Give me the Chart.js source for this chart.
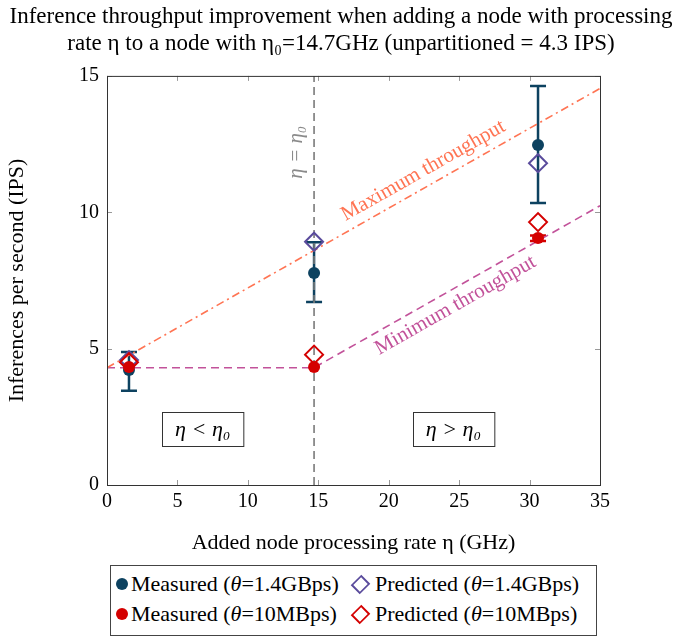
<!DOCTYPE html>
<html>
<head>
<meta charset="utf-8">
<script src="https://cdn.jsdelivr.net/npm/chart.js@4"></script>
<style>
  body { margin: 0; background: #fff; font-family: 'Liberation Serif', serif; }
  #wrap { position: absolute; left: 0; top: 0; width: 682px; height: 560px; }
  #legend {
    position: absolute; left: 110px; top: 565px; width: 487px; height: 71px;
    border: 1px solid #444; font-size: 22px; color: #000; box-sizing: border-box;
    padding: 3px 0 0 5px; white-space: nowrap;
  }
  .row { display: flex; align-items: center; height: 30px; }
  .item { display: flex; align-items: center; }
  .item.first { width: 232px; }
  .dot { width: 12px; height: 12px; border-radius: 50%; margin-right: 3px; display: inline-block; }
  .dia { width: 11px; height: 11px; border: 2px solid; transform: rotate(45deg) scaleX(0.85); margin: 0 7px 0 5px; display: inline-block; }
</style>
</head>
<body>
<div id="wrap"><canvas id="chart" width="682" height="560"></canvas></div>
<div id="legend">
  <div class="row">
    <div class="item first"><span class="dot" style="background:#0d4260"></span>Measured (<i>θ</i>=1.4GBps)</div>
    <div class="item"><span class="dia" style="border-color:#5a4b9c"></span>Predicted (<i>θ</i>=1.4GBps)</div>
  </div>
  <div class="row">
    <div class="item first"><span class="dot" style="background:#d40000"></span>Measured (<i>θ</i>=10MBps)</div>
    <div class="item"><span class="dia" style="border-color:#d40000"></span>Predicted (<i>θ</i>=10MBps)</div>
  </div>
</div>
<script>
/* ── Data ───────────────────────────────────────────── */
const addedRate = [1.56, 14.7, 30.6];

const measuredFast = [4.22, 7.77, 12.47];
const measuredFastLow = [3.46, 6.71, 10.34];
const measuredFastHigh = [4.88, 8.9, 14.63];
const predictedFast = [4.58, 8.92, 11.8];

const measuredSlow = [4.33, 4.33, 9.06];
const measuredSlowLow = [4.3, 4.3, 8.95];
const measuredSlowHigh = [4.36, 4.36, 9.15];
const predictedSlow = [4.5, 4.78, 9.64];

const maxRate = [0, 35];
const maxIps = [4.3, 14.54];
const minRate = [0, 14.7, 35];
const minIps = [4.3, 4.3, 10.24];
const eta0Rate = [14.7, 14.7];
const eta0Ips = [0, 15];

const xTicks = [0, 5, 10, 15, 20, 25, 30, 35];
const yTicks = [0, 5, 10, 15];

const COLORS = {
    navy: '#0d4260',
    purple: '#5a4b9c',
    red: '#d40000',
    coral: '#ff7453',
    magenta: '#c2529a',
    gray: '#7a7a7a',
};

const SERIF = "'Liberation Serif', 'Times New Roman', serif";

const pts = (xs, ys) => xs.map((x, i) => ({ x, y: ys[i] }));

/* ── Plugins ────────────────────────────────────────── */
const errorBars = {
    id: 'errorBars',
    beforeDatasetsDraw(chart) {
        const { ctx, scales: { x, y } } = chart;
        const draw = (lo, hi, color) => {
            ctx.save();
            ctx.strokeStyle = color;
            ctx.lineWidth = 2.5;
            addedRate.forEach((r, i) => {
                const px = x.getPixelForValue(r);
                const y1 = y.getPixelForValue(lo[i]);
                const y2 = y.getPixelForValue(hi[i]);
                if (Math.abs(y1 - y2) < 2) return;
                ctx.beginPath();
                ctx.moveTo(px, y1); ctx.lineTo(px, y2);
                ctx.moveTo(px - 8, y1); ctx.lineTo(px + 8, y1);
                ctx.moveTo(px - 8, y2); ctx.lineTo(px + 8, y2);
                ctx.stroke();
            });
            ctx.restore();
        };
        draw(measuredFastLow, measuredFastHigh, COLORS.navy);
        draw(measuredSlowLow, measuredSlowHigh, COLORS.red);
    },
};

const annotations = {
    id: 'annotations',
    afterDatasetsDraw(chart) {
        const { ctx, scales: { x, y } } = chart;
        const slope = (xs, ys, a, b) => Math.atan2(
            y.getPixelForValue(ys[b]) - y.getPixelForValue(ys[a]),
            x.getPixelForValue(xs[b]) - x.getPixelForValue(xs[a]));

        ctx.save();
        ctx.font = `21px ${SERIF}`;
        ctx.textAlign = 'center';

        // Maximum throughput label, above the line
        let ang = slope(maxRate, maxIps, 0, 1);
        let lx = 23.0, ly = maxIps[0] + (maxIps[1] - maxIps[0]) * lx / maxRate[1];
        ctx.save();
        ctx.translate(x.getPixelForValue(lx), y.getPixelForValue(ly));
        ctx.rotate(ang);
        ctx.fillStyle = COLORS.coral;
        ctx.textBaseline = 'bottom';
        ctx.fillText('Maximum throughput', 0, -5);
        ctx.restore();

        // Minimum throughput label, below the line
        ang = slope(minRate, minIps, 1, 2);
        lx = 24.2;
        ly = minIps[1] + (minIps[2] - minIps[1]) * (lx - minRate[1]) / (minRate[2] - minRate[1]);
        ctx.save();
        ctx.translate(x.getPixelForValue(lx), y.getPixelForValue(ly));
        ctx.rotate(ang);
        ctx.fillStyle = COLORS.magenta;
        ctx.textBaseline = 'top';
        ctx.fillText('Minimum throughput', 0, 5);
        ctx.restore();

        // eta = eta0 label
        ctx.save();
        ctx.translate(x.getPixelForValue(eta0Rate[0]) - 7, y.getPixelForValue(12.2));
        ctx.rotate(-Math.PI / 2);
        ctx.fillStyle = '#8a8a8a';
        ctx.font = `italic 21px ${SERIF}`;
        ctx.textBaseline = 'bottom';
        ctx.fillText('η = η₀', 0, 0);
        ctx.restore();

        // Region boxes
        const box = (cx, cy, text) => {
            const px = x.getPixelForValue(cx), py = y.getPixelForValue(cy);
            ctx.font = `italic 22px ${SERIF}`;
            const w = ctx.measureText(text).width + 26;
            const h = 34;
            ctx.strokeStyle = '#333';
            ctx.lineWidth = 1;
            ctx.strokeRect(Math.round(px - w / 2) + 0.5, Math.round(py - h / 2) + 0.5, w, h);
            ctx.fillStyle = '#000';
            ctx.textBaseline = 'middle';
            ctx.fillText(text, px, py + 1);
        };
        box(6.8, 2.05, 'η < η₀');
        box(24.6, 2.05, 'η > η₀');
        ctx.restore();
    },
};

const frame = {
    id: 'frame',
    afterDraw(chart) {
        const { ctx, chartArea: a, scales: { x, y } } = chart;
        ctx.save();
        ctx.strokeStyle = '#999';
        ctx.lineWidth = 1;
        ctx.beginPath();
        xTicks.forEach(t => {
            const px = Math.round(x.getPixelForValue(t)) + 0.5;
            ctx.moveTo(px, a.bottom); ctx.lineTo(px, a.bottom - 5);
            ctx.moveTo(px, a.top); ctx.lineTo(px, a.top + 5);
        });
        yTicks.forEach(t => {
            const py = Math.round(y.getPixelForValue(t)) + 0.5;
            ctx.moveTo(a.left, py); ctx.lineTo(a.left + 5, py);
            ctx.moveTo(a.right, py); ctx.lineTo(a.right - 5, py);
        });
        ctx.stroke();
        ctx.strokeStyle = '#333';
        ctx.strokeRect(a.left + 0.5, a.top + 0.5, a.right - a.left, a.bottom - a.top);
        ctx.restore();
    },
};

/* ── Chart ──────────────────────────────────────────── */
const lineDs = (label, data, color, dash, order) => ({
    label, data, borderColor: color, borderWidth: 1.6, borderDash: dash,
    showLine: true, pointRadius: 0, fill: false, order,
});

new Chart(document.getElementById('chart'), {
    type: 'scatter',
    data: {
        datasets: [
            {
                label: 'Measured (θ=10MBps)', data: pts(addedRate, measuredSlow),
                pointStyle: 'circle', pointRadius: 6, backgroundColor: COLORS.red,
                borderColor: COLORS.red, borderWidth: 0, order: 0,
            },
            {
                label: 'Predicted (θ=10MBps)', data: pts(addedRate, predictedSlow),
                pointStyle: 'rectRot', pointRadius: 9, backgroundColor: 'rgba(255,255,255,0)',
                borderColor: COLORS.red, borderWidth: 2, order: 1,
            },
            {
                label: 'Predicted (θ=1.4GBps)', data: pts(addedRate, predictedFast),
                pointStyle: 'rectRot', pointRadius: 9, backgroundColor: 'rgba(255,255,255,0)',
                borderColor: COLORS.purple, borderWidth: 2, order: 2,
            },
            {
                label: 'Measured (θ=1.4GBps)', data: pts(addedRate, measuredFast),
                pointStyle: 'circle', pointRadius: 6, backgroundColor: COLORS.navy,
                borderColor: COLORS.navy, borderWidth: 0, order: 3,
            },
            lineDs('Maximum throughput', pts(maxRate, maxIps), COLORS.coral, [8, 4, 2, 4], 4),
            lineDs('Minimum throughput', pts(minRate, minIps), COLORS.magenta, [8, 5], 5),
            lineDs('η = η₀', pts(eta0Rate, eta0Ips), COLORS.gray, [8, 5], 6),
        ],
    },
    options: {
        responsive: false,
        animation: false,
        layout: { padding: 0 },
        plugins: {
            legend: { display: false },
            tooltip: { enabled: false },
            title: {
                display: true,
                text: [
                    'Inference throughput improvement when adding a node with processing',
                    'rate η to a node with η₀=14.7GHz (unpartitioned = 4.3 IPS)',
                ],
                color: '#000',
                font: { family: SERIF, size: 23, weight: 'normal', lineHeight: 1.15 },
                padding: { top: 4, bottom: 19 },
            },
        },
        scales: {
            x: {
                type: 'linear', min: 0, max: 35,
                afterBuildTicks: s => { s.ticks = xTicks.map(v => ({ value: v })); },
                afterFit: s => { s.height = 75; },
                grid: { display: false, drawTicks: false },
                border: { display: false },
                ticks: { color: '#000', font: { family: SERIF, size: 20 }, padding: 5 },
                title: {
                    display: true, text: 'Added node processing rate η (GHz)', color: '#000',
                    font: { family: SERIF, size: 22 }, padding: { top: 6 },
                },
            },
            y: {
                type: 'linear', min: 0, max: 15,
                afterBuildTicks: s => { s.ticks = yTicks.map(v => ({ value: v })); },
                afterFit: s => { s.width = 107; },
                grid: { display: false, drawTicks: false },
                border: { display: false },
                ticks: { color: '#000', font: { family: SERIF, size: 20 }, padding: 8 },
                title: {
                    display: true, text: 'Inferences per second (IPS)', color: '#000',
                    font: { family: SERIF, size: 22 }, padding: { bottom: 2 },
                },
            },
            // empty right-hand axis that reserves the margin, so the title stays centred on the page
            yRight: {
                type: 'linear', position: 'right', min: 0, max: 15,
                afterFit: s => { s.width = 82; },
                grid: { display: false, drawTicks: false },
                border: { display: false },
                ticks: { display: false },
            },
        },
    },
    plugins: [errorBars, annotations, frame],
});
</script>
</body>
</html>
